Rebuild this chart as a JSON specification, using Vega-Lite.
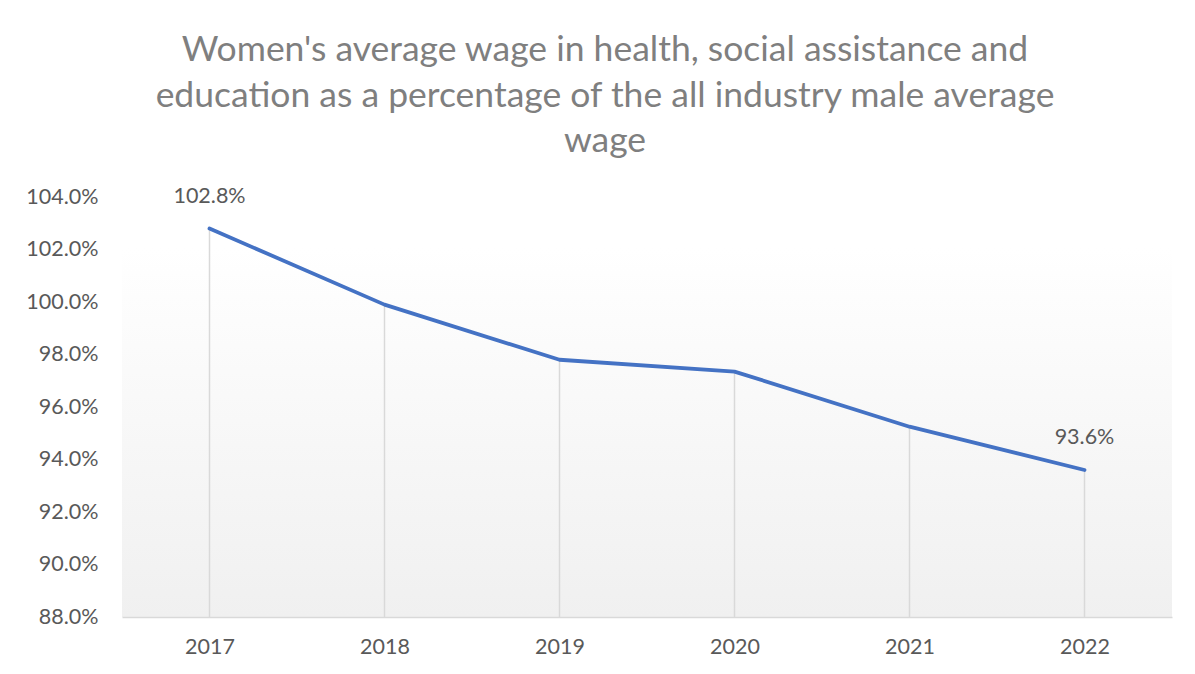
{
  "$schema": "https://vega.github.io/schema/vega-lite/v6.json",
  "width": 1050,
  "height": 420,
  "autosize": {"type": "none"},
  "padding": {"left": 122, "top": 197, "right": 23, "bottom": 57},
  "background": "white",
  "title": {
    "text": ["Women's average wage in health, social assistance and", "education as a percentage of the all industry male average", "wage"],
    "font": "Lato",
    "fontSize": 35.5,
    "fontWeight": "normal",
    "color": "#7f7f7f",
    "lineHeight": 45.5,
    "anchor": "middle",
    "dx": -42,
    "offset": 26
  },
  "data": {
    "values": [
      {"year": "2017", "pct": 102.8, "label": "102.8%"},
      {"year": "2018", "pct": 99.9, "label": ""},
      {"year": "2019", "pct": 97.8, "label": ""},
      {"year": "2020", "pct": 97.35, "label": ""},
      {"year": "2021", "pct": 95.25, "label": ""},
      {"year": "2022", "pct": 93.6, "label": "93.6%"}
    ]
  },
  "encoding": {
    "x": {
      "field": "year", "type": "ordinal",
      "scale": {"type": "point", "padding": 0.5},
      "axis": {"title": null, "labelAngle": 0, "ticks": false, "domainColor": "#d9d9d9", "domainWidth": 1.5, "labelFont": "Lato", "labelFontSize": 21.5, "labelColor": "#595959", "labelPadding": 19}
    },
    "y": {
      "field": "pct", "type": "quantitative",
      "scale": {"domain": [88, 104], "nice": false, "zero": false},
      "axis": {"title": null, "values": [88, 90, 92, 94, 96, 98, 100, 102, 104], "format": ".1f", "labelExpr": "datum.label + '%'", "grid": false, "domain": false, "ticks": false, "labelFont": "Lato", "labelFontSize": 21.5, "labelColor": "#595959", "labelPadding": 24}
    }
  },
  "layer": [
    {
      "mark": {"type": "rule", "color": "#d9d9d9", "strokeWidth": 1.5},
      "encoding": {"y2": {"datum": 88}}
    },
    {
      "mark": {"type": "line", "color": "#4472c4", "strokeWidth": 3.8, "interpolate": "linear", "strokeCap": "round", "strokeJoin": "round"}
    },
    {
      "mark": {"type": "text", "font": "Lato", "fontSize": 21.5, "color": "#595959", "dy": -32, "baseline": "middle"},
      "encoding": {"text": {"field": "label"}}
    }
  ],
  "config": {
    "view": {
      "stroke": null,
      "fill": {"gradient": "linear", "x1": 0, "y1": 0, "x2": 0, "y2": 1, "stops": [{"offset": 0, "color": "#ffffff"}, {"offset": 0.12, "color": "#ffffff"}, {"offset": 1, "color": "#f0f0f0"}]}
    }
  }
}
